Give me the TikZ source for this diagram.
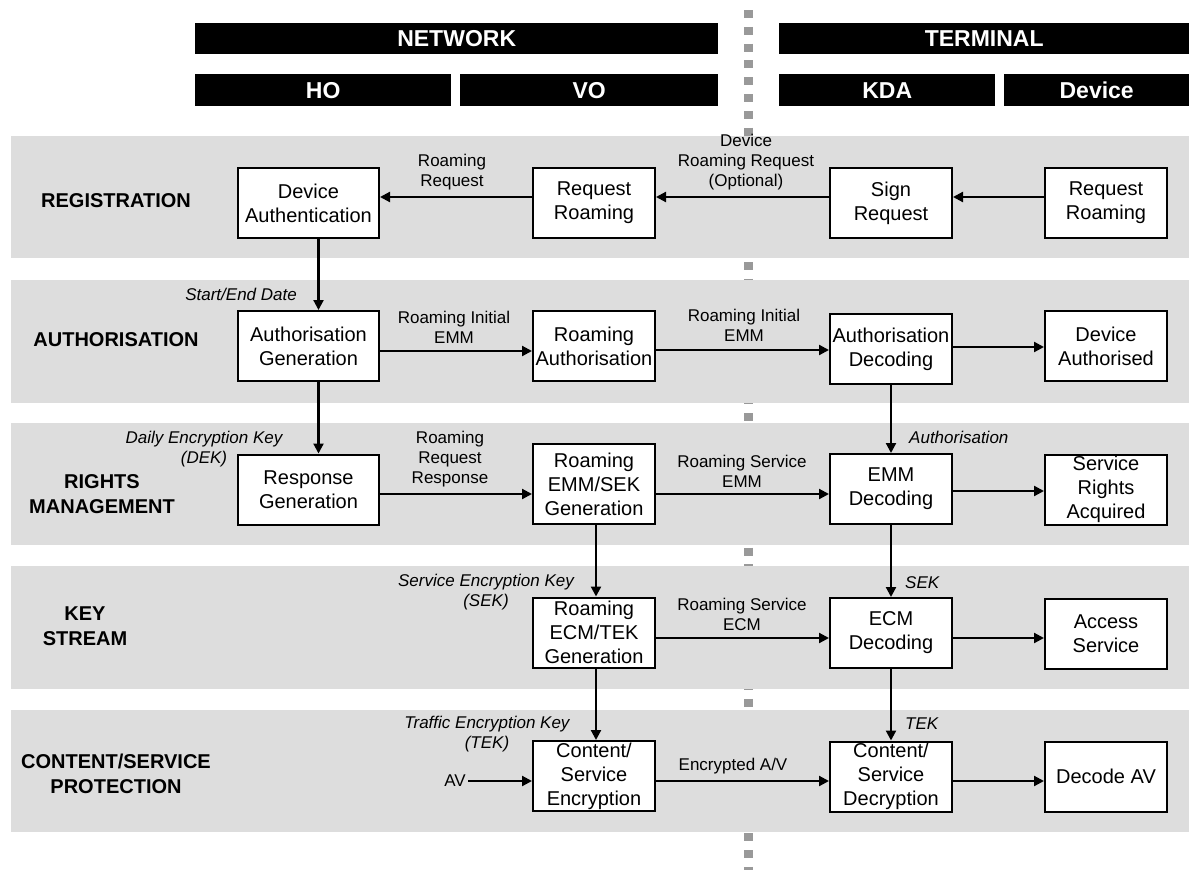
\documentclass[tikz,border=0pt]{standalone}
\usepackage{fontspec}
\setmainfont{Liberation Sans}
\usetikzlibrary{arrows.meta}
\definecolor{bandgray}{RGB}{221,221,221}
\definecolor{sepgray}{RGB}{153,153,153}
\tikzset{
  band/.style={fill=bandgray, draw=none},
  hdr/.style={fill=black, text=white, font=\fontsize{23}{27}\selectfont\bfseries, inner sep=0pt, anchor=north west},
  box/.style={draw=black, line width=2pt, fill=white, align=center, inner sep=0pt, font=\fontsize{20}{24}\selectfont},
  hobox/.style={box, minimum width=141pt, minimum height=70pt},
  sbox/.style={box, minimum width=122pt, minimum height=70pt},
  flow/.style={line width=2.2pt, -{Triangle[length=10pt,width=10pt]}},
  lbl/.style={align=center, font=\fontsize{17}{20}\selectfont, inner sep=0pt},
  ilbl/.style={align=center, font=\fontsize{17}{20}\selectfont\itshape, inner sep=0pt},
  phase/.style={align=center, font=\fontsize{20}{25}\selectfont\bfseries, inner sep=0pt},
  sep/.style={draw=sepgray, line width=9pt, dash pattern=on 8pt off 8.8pt}
}
\begin{document}
\begin{tikzpicture}[x=1pt,y=-1pt]
\useasboundingbox (0,0) rectangle (1189,870);
% separator
\coordinate (septop) at (748,10);
\coordinate (sepbot) at (748,870);
\draw[sep] (septop) -- (sepbot);
% bands
\fill[band] (11,136) rectangle (1189,258);
\fill[band] (11,280) rectangle (1189,403);
\fill[band] (11,423) rectangle (1189,545);
\fill[band] (11,566) rectangle (1189,689);
\fill[band] (11,710) rectangle (1189,832);
% headers
\node[hdr, minimum width=523pt, minimum height=31pt] (net) at (195,23) {NETWORK};
\node[hdr, minimum width=410pt, minimum height=31pt] (term) at (779,23) {TERMINAL};
\node[hdr, minimum width=256pt, minimum height=32pt] (ho) at (195,74) {HO};
\node[hdr, minimum width=258pt, minimum height=32pt] (vo) at (460,74) {VO};
\node[hdr, minimum width=216pt, minimum height=32pt] (kda) at (779,74) {KDA};
\node[hdr, minimum width=185pt, minimum height=32pt] (dev) at (1004,74) {Device};
% phase labels
\node[phase] (pReg) at (116,201) {REGISTRATION};
\node[phase] (pAuth) at (116,340) {AUTHORISATION};
\node[phase] (pRights) at (102,494) {RIGHTS\\MANAGEMENT};
\node[phase] (pKey) at (85,626) {KEY\\STREAM};
\node[phase] (pProt) at (116,774) {CONTENT/SERVICE\\PROTECTION};
% row 1
\node[hobox] (da) at (308.5,203) {Device\\Authentication};
\node[sbox] (rr1) at (594,203) {Request\\Roaming};
\node[sbox] (sr) at (891,203) {Sign\\Request};
\node[sbox] (rr2) at (1106,203) {Request\\Roaming};
% row 2
\node[hobox] (ag) at (308.5,346) {Authorisation\\Generation};
\node[sbox] (ra) at (594,346) {Roaming\\Authorisation};
\node[sbox] (adec) at (891,349) {Authorisation\\Decoding};
\node[sbox] (dauth) at (1106,346) {Device\\Authorised};
% row 3
\node[hobox] (rg) at (308.5,489.5) {Response\\Generation};
\node[sbox, minimum height=80pt] (res) at (594,484) {Roaming\\EMM/SEK\\Generation};
\node[sbox] (emm) at (891,489) {EMM\\Decoding};
\node[sbox] (srq) at (1106,489.5) {Service\\Rights\\Acquired};
% row 4
\node[sbox] (ret) at (594,632.5) {Roaming\\ECM/TEK\\Generation};
\node[sbox] (ecm) at (891,633) {ECM\\Decoding};
\node[sbox] (acc) at (1106,634) {Access\\Service};
% row 5
\node[sbox] (cse) at (594,776) {Content/\\Service\\Encryption};
\node[sbox] (csd) at (891,776.5) {Content/\\Service\\Decryption};
\node[sbox] (dav) at (1106,776.5) {Decode AV};
% row levels
\coordinate (y1) at (0,197);
\coordinate (y2a) at (0,351);
\coordinate (y2b) at (0,350);
\coordinate (y2c) at (0,347);
\coordinate (y3a) at (0,494);
\coordinate (y3b) at (0,491);
\coordinate (y4) at (0,638);
\coordinate (y5) at (0,781);
% horizontal arrows
\draw[flow] (rr2.west |- y1) -- (sr.east |- y1);
\draw[flow] (sr.west |- y1) -- (rr1.east |- y1);
\draw[flow] (rr1.west |- y1) -- (da.east |- y1);
\draw[flow] (ag.east |- y2a) -- (ra.west |- y2a);
\draw[flow] (ra.east |- y2b) -- (adec.west |- y2b);
\draw[flow] (adec.east |- y2c) -- (dauth.west |- y2c);
\draw[flow] (rg.east |- y3a) -- (res.west |- y3a);
\draw[flow] (res.east |- y3a) -- (emm.west |- y3a);
\draw[flow] (emm.east |- y3b) -- (srq.west |- y3b);
\draw[flow] (ret.east |- y4) -- (ecm.west |- y4);
\draw[flow] (ecm.east |- y4) -- (acc.west |- y4);
\draw[flow] (cse.east |- y5) -- (csd.west |- y5);
\draw[flow] (csd.east |- y5) -- (dav.west |- y5);
% vertical arrows
\draw[flow] ([xshift=10pt]da.south) -- ([xshift=10pt]ag.north);
\draw[flow] ([xshift=10pt]ag.south) -- ([xshift=10pt]rg.north);
\draw[flow] ([xshift=2pt]res.south) -- ([xshift=2pt]ret.north);
\draw[flow] ([xshift=2pt]ret.south) -- ([xshift=2pt]cse.north);
\draw[flow] (adec.south) -- (emm.north);
\draw[flow] (emm.south) -- (ecm.north);
\draw[flow] (ecm.south) -- (csd.north);
% AV input
\node[lbl, anchor=east] (avl) at (466,781) {AV};
\draw[flow] ([xshift=2pt]avl.east) -- (cse.west |- avl.east);
% edge labels
\node[lbl] (lRR) at (452,172) {Roaming\\Request};
\node[lbl] (lDRR) at (746,162) {Device\\Roaming Request\\(Optional)};
\node[ilbl, anchor=east] (lSED) at (297,294) {Start/End Date};
\node[lbl] (lRIE1) at (454,327) {Roaming Initial\\EMM};
\node[lbl] (lRIE2) at (744,325) {Roaming Initial\\EMM};
\node[ilbl] (lDEK) at (204,449) {Daily Encryption Key\\(DEK)};
\node[lbl] (lRRR) at (450,459) {Roaming\\Request\\Response};
\node[ilbl, anchor=west] (lAuth) at (909,437) {Authorisation};
\node[lbl] (lRSE) at (742,471) {Roaming Service\\EMM};
\node[ilbl] (lSEKk) at (486,592) {Service Encryption Key\\(SEK)};
\node[ilbl, anchor=west] (lSEK) at (905,583) {SEK};
\node[lbl] (lRSC) at (742,614) {Roaming Service\\ECM};
\node[ilbl] (lTEKk) at (487,734) {Traffic Encryption Key\\(TEK)};
\node[ilbl, anchor=west] (lTEK) at (905,724) {TEK};
\node[lbl] (lEAV) at (733,766) {Encrypted A/V};
\end{tikzpicture}
\end{document}
